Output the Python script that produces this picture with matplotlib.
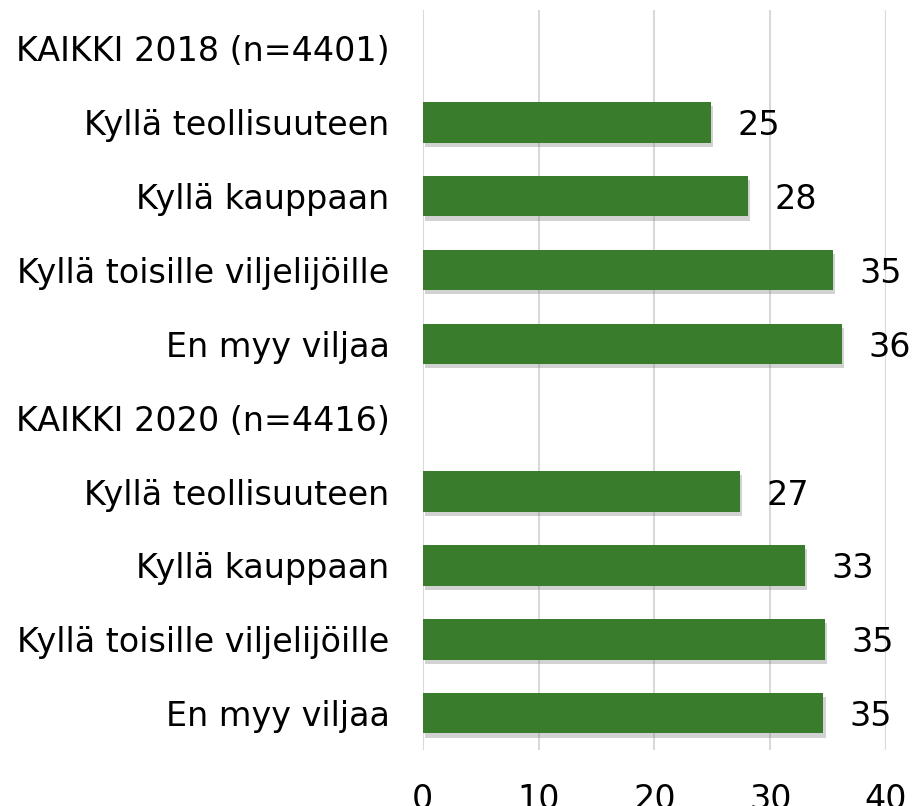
import numpy as np
import matplotlib.pyplot as plt
import matplotlib.patheffects as pe

# Data
groups = ["KAIKKI 2018 (n=4401)", "KAIKKI 2020 (n=4416)"]
answers = ["Kyllä teollisuuteen", "Kyllä kauppaan",
           "Kyllä toisille viljelijöille", "En myy viljaa"]
values_2018 = [24.9, 28.1, 35.4, 36.2]
values_2020 = [27.4, 33.0, 34.7, 34.6]
xticks = [0, 10, 20, 30, 40]

# Build rows: a header row per group, then its answers
labels = []
values = []
for g, vals in zip(groups, [values_2018, values_2020]):
    labels.append(g)
    values.append(np.nan)
    labels.extend(answers)
    values.extend(vals)

green = "#387c2c"
fs = 24

fig = plt.figure(figsize=(9.14, 8.06), dpi=100)
ax = fig.add_axes([0.4625, 0.0695, 0.5069, 0.918])

y = np.arange(len(labels))
bar_vals = np.nan_to_num(values)
bars = ax.barh(y, bar_vals, height=0.55, color=green, zorder=3)
for b, v in zip(bars, values):
    if np.isnan(v):
        b.set_visible(False)
        continue
    b.set_path_effects([pe.SimplePatchShadow(offset=(1.5, -3), shadow_rgbFace="gray", alpha=0.35),
                        pe.Normal()])
    ax.annotate(f"{v:.0f}", (v, b.get_y() + b.get_height() / 2),
                xytext=(19, 0), textcoords="offset points",
                ha="left", va="center_baseline", fontsize=fs, color="black")

ax.set_yticks(y)
ax.set_yticklabels(labels, fontsize=fs)
ax.set_ylim(len(labels) - 0.5, -0.52)
ax.set_xlim(0, 40)
ax.set_xticks(xticks)
ax.set_xticklabels([str(t) for t in xticks], fontsize=fs)
ax.tick_params(axis="both", length=0)
ax.tick_params(axis="y", pad=24)
ax.tick_params(axis="x", pad=24)
ax.grid(axis="x", color="#d9d9d9", linewidth=1.5, zorder=0)
for s in ax.spines.values():
    s.set_visible(False)

fig.savefig("out.png", dpi=100)
